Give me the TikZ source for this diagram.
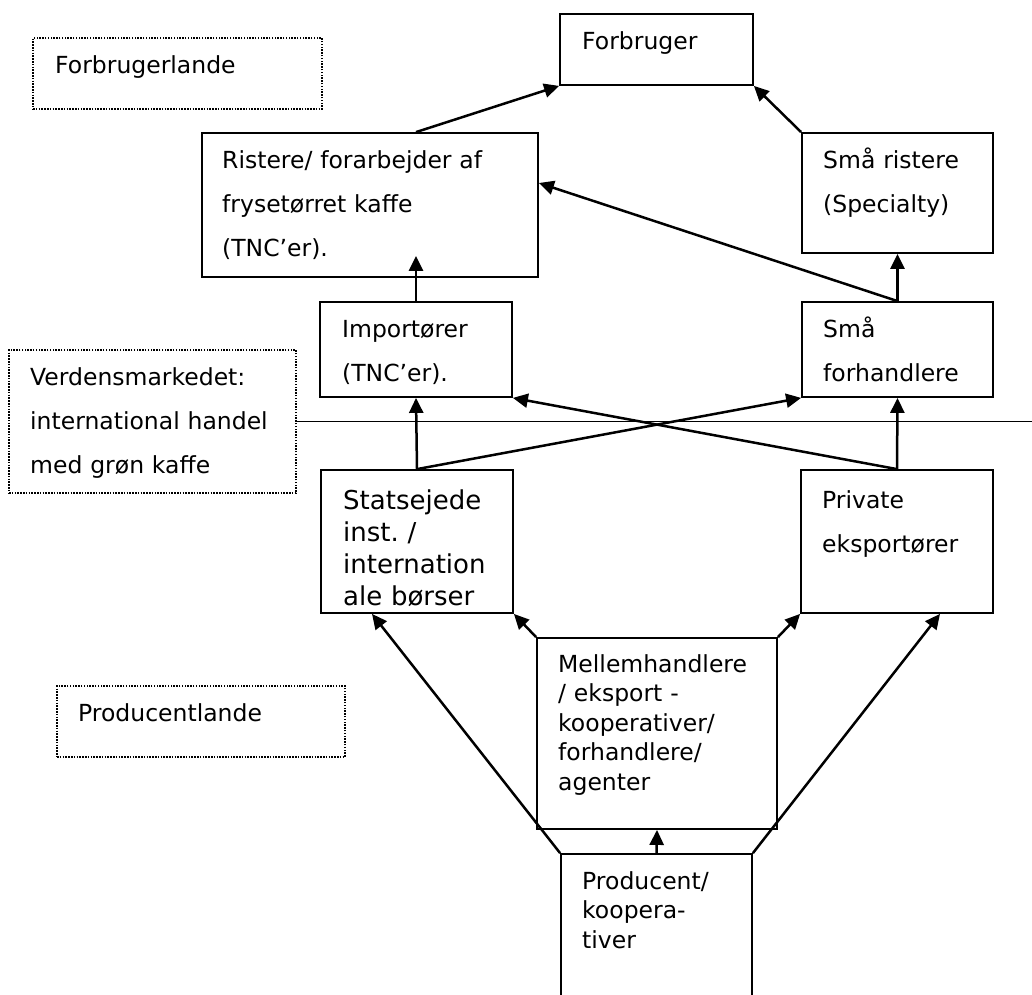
\documentclass[tikz,border=0pt]{standalone}
\usepackage{fontspec}
\setmainfont{DejaVu Sans}
\usepackage{tikz}
\usetikzlibrary{arrows.meta, positioning, calc}

\begin{document}
\begin{tikzpicture}[
        x=1pt, y=-1pt,
        box/.style={rectangle, draw=black, line width=1.8pt, inner sep=0pt},
        region/.style={rectangle, draw=black, line width=1.5pt,
                       dash pattern=on 1.5pt off 1.3pt, inner sep=0pt},
        txt/.style={anchor=base west, inner sep=0pt, text width=300pt, align=left,
                    font=\fontsize{23.5}{44}\selectfont},
        tighttxt/.style={txt, font=\fontsize{23.5}{29.5}\selectfont},
        bigtxt/.style={txt, font=\fontsize{26}{32}\selectfont},
        flow/.style={-{Triangle[length=15pt,width=14pt]}, line width=2.5pt}
    ]
        \useasboundingbox (0,0) rectangle (1032,994);
        \clip (0,0) rectangle (1032,994);

        % Regions (dotted frames)
        \node [region, minimum width=289, minimum height=71] (forbrugerlande) at (177.5,73.5) {};
        \node [txt] (forbrugerlandetxt) at (55,73) {Forbrugerlande};
        \node [region, minimum width=287, minimum height=143] (verden) at (152.5,421.5) {};
        \node [txt] (verdentxt) at (30,385) {Verdensmarkedet:\\international handel\\med grøn kaffe};
        \node [region, minimum width=288, minimum height=71] (producentlande) at (201,721.5) {};
        \node [txt] (producentlandetxt) at (78,721) {Producentlande};

        % Chain boxes
        \node [box, minimum width=193, minimum height=71] (forbruger) at (656.5,49.5) {};
        \node [txt] (forbrugertxt) at (582,49) {Forbruger};
        \node [box, minimum width=336, minimum height=144] (ristere) at (370,205) {};
        \node [txt] (risteretxt) at (222,168) {Ristere/ forarbejder af\\frysetørret kaffe\\(TNC’er).};
        \node [box, minimum width=191, minimum height=120] (smaarist) at (897.5,193) {};
        \node [txt] (smaaristtxt) at (823,168) {Små ristere\\(Specialty)};
        \node [box, minimum width=192, minimum height=95] (importoer) at (416,349.5) {};
        \node [txt] (importoertxt) at (342,337) {Importører\\(TNC’er).};
        \node [box, minimum width=191, minimum height=95] (smaaforh) at (897.5,349.5) {};
        \node [txt] (smaaforhtxt) at (823,337) {Små\\forhandlere};
        \node [box, minimum width=192, minimum height=143] (statsejede) at (417,541.5) {};
        \node [bigtxt] (statsejedetxt) at (343,509) {Statsejede\\inst.\ /\\internation\\ale børser};
        \node [box, minimum width=192, minimum height=143] (private) at (897,541.5) {};
        \node [txt] (privatetxt) at (822,508) {Private\\eksportører};
        \node [box, minimum width=240, minimum height=191] (mellem) at (657,733.5) {};
        \node [tighttxt] (mellemtxt) at (558,672) {Mellemhandlere\\/ eksport -\\kooperativer/\\forhandlere/\\agenter};
        \node [box, minimum width=191, minimum height=160] (producent) at (656.5,934) {};
        \node [tighttxt] (producenttxt) at (582,889) {Producent/\\koopera-\\tiver};

        % Border between world market and consumer countries
        \coordinate (hoejrekant) at (1032,422);
        \draw [line width=1.8pt] (verden.east) -- (verden.east -| hoejrekant);

        % Flows upwards
        \draw [flow] (ristere.north -| importoer.north) -- (forbruger.south west);
        \draw [flow] (smaarist.north west) -- (forbruger.south east);
        \draw [flow] (smaaforh.north) -- ([yshift=22pt]ristere.east);
        \draw [flow] (smaaforh.north) -- (smaarist.south);
        \draw [flow] (importoer.north) -- ([yshift=22pt]importoer.north |- ristere.south);
        \draw [flow] (statsejede.north) -- (importoer.south);
        \draw [flow] (statsejede.north) -- (smaaforh.south west);
        \draw [flow] (private.north) -- (importoer.south east);
        \draw [flow] (private.north) -- (smaaforh.south);
        \draw [flow] (mellem.north west) -- (statsejede.south east);
        \draw [flow] (mellem.north east) -- (private.south west);
        \draw [flow] (producent.north) -- (mellem.south);
        \draw [flow] (producent.north west) -- ([xshift=-45pt]statsejede.south);
        \draw [flow] (producent.north east) -- ([xshift=43pt]private.south);
    \end{tikzpicture}
\end{document}
